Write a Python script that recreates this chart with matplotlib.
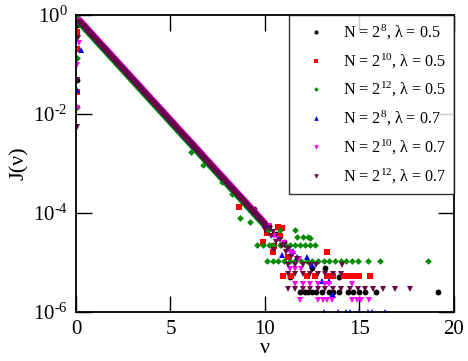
import matplotlib
matplotlib.use("Agg")
import matplotlib.pyplot as plt

# ==============================
# Data
# ==============================

# common exponential band, nu = 0.2 ... 10.0
nu_band = [0.2, 0.4, 0.6, 0.8, 1.0, 1.2, 1.4, 1.6, 1.8, 2.0,
           2.2, 2.4, 2.6, 2.8, 3.0, 3.2, 3.4, 3.6, 3.8, 4.0,
           4.2, 4.4, 4.6, 4.8, 5.0, 5.2, 5.4, 5.6, 5.8, 6.0,
           6.2, 6.4, 6.6, 6.8, 7.0, 7.2, 7.4, 7.6, 7.8, 8.0,
           8.2, 8.4, 8.6, 8.8, 9.0, 9.2, 9.4, 9.6, 9.8, 10.0]
J_band = [0.752, 0.621, 0.512, 0.422, 0.348, 0.287, 0.237, 0.1955, 0.1613, 0.133,
          0.1097, 0.0905, 0.0747, 0.0616, 0.0508, 0.0419, 0.0346, 0.0285, 0.0235, 0.0194,
          0.0160, 0.0132, 0.0109, 0.00899, 0.00741, 0.00611, 0.00504, 0.00416, 0.00343, 0.00283,
          0.00234, 0.00193, 0.00159, 0.00131, 0.00108, 0.000892, 0.000736, 0.000607, 0.000501, 0.000413,
          0.000341, 0.000281, 0.000232, 0.000191, 0.000158, 0.000130, 0.000107, 0.0000885, 0.0000730, 0.0000603]
J_band_green = [0.677, 0.559, 0.461, 0.380, 0.313, 0.258, 0.213, 0.176, 0.145, 0.120,
                0.0987, 0.0815, 0.0672, 0.0554, 0.0457, 0.0377, 0.0311, 0.0257, 0.0212, 0.0175,
                0.0144, 0.0119, 0.00981, 0.00809, 0.00667, 0.00550, 0.00454, 0.00374, 0.00309, 0.00255,
                0.00211, 0.00174, 0.00143, 0.00118, 0.000972, 0.000803, 0.000662, 0.000546, 0.000451, 0.000372,
                0.000307, 0.000253, 0.000209, 0.000172, 0.000142, 0.000117, 0.0000963, 0.0000797, 0.0000657, 0.0000543]
J_band_magenta = [0.797, 0.658, 0.543, 0.447, 0.369, 0.304, 0.251, 0.207, 0.171, 0.141,
                  0.116, 0.0959, 0.0792, 0.0653, 0.0538, 0.0444, 0.0367, 0.0302, 0.0249, 0.0206,
                  0.0170, 0.0140, 0.0116, 0.00953, 0.00785, 0.00648, 0.00534, 0.00441, 0.00364, 0.00300,
                  0.00248, 0.00205, 0.00169, 0.00139, 0.00114, 0.000946, 0.000780, 0.000643, 0.000531, 0.000438,
                  0.000361, 0.000298, 0.000246, 0.000203, 0.000167, 0.000138, 0.000113, 0.0000938, 0.0000774, 0.0000639]

# extra scattered points of each series (nu ~ 0 column and the noisy tail)
nu_black = [0.05, 0.05, 9.4, 10.2, 10.6, 11.0, 11.3, 12.5, 13.2, 13.9,
            11.85, 12.1, 12.3, 12.5, 12.7, 13.0, 13.4, 13.6, 13.9, 14.4,
            14.65, 15.0, 15.3, 15.9, 19.15]
J_black = [0.63, 0.049, 1.2e-4, 5.5e-5, 3.8e-5, 2.6e-5, 5.1e-6, 7.7e-6, 7.7e-6, 5.1e-6,
           2.57e-6, 2.57e-6, 2.57e-6, 2.57e-6, 2.57e-6, 2.57e-6, 2.57e-6, 2.57e-6, 2.57e-6, 2.57e-6,
           2.57e-6, 2.57e-6, 2.57e-6, 2.57e-6, 2.57e-6]

nu_red = [0.05, 0.05, 0.05, 8.6, 9.9, 10.4, 10.7, 10.9, 10.8, 13.3,
          10.1, 10.5, 11.2,
          10.95, 11.4, 12.2, 12.65, 13.3, 13.6, 14.2, 14.4, 14.65, 15.0, 15.55]
J_red = [0.45, 0.21, 0.028, 1.3e-4, 2.6e-5, 1.6e-5, 5.2e-5, 5e-5, 3.5e-5, 1.6e-5,
         4e-5, 2.2e-5, 1.3e-5,
         5.4e-6, 5.4e-6, 5.4e-6, 5.4e-6, 5.4e-6, 5.4e-6, 5.4e-6, 5.4e-6, 5.4e-6, 5.4e-6, 5.4e-6]

nu_green = [0.05, 0.05, 0.05, 6.1, 6.7, 7.7, 8.25, 8.7, 9.2, 10.15,
            10.8, 11.6, 12.4, 11.7, 12.0, 12.3,
            9.6, 9.9, 10.2, 10.4, 10.8, 11.05, 11.3, 11.6, 11.85, 12.1, 12.4, 12.65,
            10.1, 10.4, 10.7, 11.0, 11.3, 11.6, 11.9, 12.2, 12.5, 12.8,
            13.1, 13.4, 13.7, 14.0, 14.3, 14.6, 14.9, 15.45, 16.1, 18.6]
J_green = [0.95, 0.135, 0.0138, 1.7e-3, 9.3e-4, 4.2e-4, 2.4e-4, 7.9e-5, 6.6e-5, 4.5e-5,
           4.5e-5, 4.5e-5, 3.2e-5, 3.3e-5, 3.3e-5, 3.3e-5,
           2.25e-5, 2.25e-5, 2.25e-5, 2.25e-5, 2.25e-5, 2.25e-5, 2.25e-5, 2.25e-5, 2.25e-5, 2.25e-5, 2.25e-5, 2.25e-5,
           1.09e-5, 1.09e-5, 1.09e-5, 1.09e-5, 1.09e-5, 1.09e-5, 1.09e-5, 1.09e-5, 1.09e-5, 1.09e-5,
           1.09e-5, 1.09e-5, 1.09e-5, 1.09e-5, 1.09e-5, 1.09e-5, 1.09e-5, 1.09e-5, 1.09e-5, 1.09e-5]

nu_blue = [0.3, 0.25, 0.05, 10.0, 10.4, 10.9, 11.2, 11.5, 11.7, 12.2, 12.5, 13.0, 13.4,
           13.55, 13.6, 13.1, 13.85, 14.3, 14.5, 15.0, 15.45, 15.65, 16.35]
J_blue = [0.69, 0.2, 0.03, 6e-5, 3.8e-5, 1.4e-5, 2e-5, 1.7e-5, 1.3e-5, 1.3e-5, 9e-6, 4.2e-6, 4.2e-6,
          2.2e-6, 2.2e-6, 1e-6, 1e-6, 1e-6, 1e-6, 1e-6, 1e-6, 1e-6, 1e-6]

nu_magenta = [0.15, 0.05, 0.05, 10.2, 10.5, 10.7, 11.0, 11.3, 11.5, 11.8,
              11.3, 11.6, 11.9,
              11.6, 12.0, 12.4, 12.8, 13.2, 13.4, 14.6,
              11.85, 12.8, 13.05, 13.3, 13.55, 14.6, 14.85, 15.1, 15.5]
J_magenta = [0.27, 0.098, 0.0132, 5.5e-5, 3.5e-5, 3e-5, 2.5e-5, 1.6e-5, 1.5e-5, 1.2e-5,
             7.4e-6, 7.4e-6, 7.4e-6,
             3.7e-6, 3.7e-6, 3.7e-6, 3.7e-6, 3.7e-6, 3.7e-6, 3.7e-6,
             1.75e-6, 1.75e-6, 1.75e-6, 1.75e-6, 1.75e-6, 1.75e-6, 1.75e-6, 1.75e-6, 1.75e-6]

nu_maroon = [0.1, 0.05, 0.05, 10.0, 10.2, 10.3, 10.4, 10.5, 10.6, 10.8, 10.9, 11.0,
             11.1, 11.2, 11.4, 11.7,
             11.2, 11.6, 12.0, 12.4, 12.7, 14.1,
             11.2, 11.6, 12.0, 12.4, 12.8, 13.2, 13.6, 14.0,
             11.2, 11.6, 12.0, 12.4, 12.8, 13.2, 13.6, 14.0, 14.5, 14.9, 15.3, 15.7, 16.25, 16.9, 17.7]
J_maroon = [0.34, 0.049, 0.0055, 4.5e-5, 5e-5, 3.5e-5, 4.1e-5, 1.8e-5, 2.6e-5, 2.8e-5, 2.2e-5, 2.3e-5,
            1.6e-5, 1.9e-5, 1.3e-5, 1.2e-5,
            9e-6, 9e-6, 9e-6, 9e-6, 9e-6, 9e-6,
            5.8e-6, 5.8e-6, 5.8e-6, 5.8e-6, 5.8e-6, 5.8e-6, 5.8e-6, 5.8e-6,
            2.9e-6, 2.9e-6, 2.9e-6, 2.9e-6, 2.9e-6, 2.9e-6, 2.9e-6, 2.9e-6, 2.9e-6, 2.9e-6, 2.9e-6, 2.9e-6, 2.9e-6, 2.9e-6, 2.9e-6]

labels = ["N = 2$^{8}$, λ = 0.5",
          "N = 2$^{10}$, λ = 0.5",
          "N = 2$^{12}$, λ = 0.5",
          "N = 2$^{8}$, λ = 0.7",
          "N = 2$^{10}$, λ = 0.7",
          "N = 2$^{12}$, λ = 0.7"]

# ==============================
# Style
# ==============================

plt.rcParams["font.family"] = ["Liberation Serif", "DejaVu Serif"]
plt.rcParams["mathtext.fontset"] = "custom"
plt.rcParams["mathtext.rm"] = "Liberation Serif"
plt.rcParams["mathtext.it"] = "Liberation Serif"
plt.rcParams["mathtext.default"] = "regular"

series = [
    (J_band, nu_black, J_black, "o", "black", 4.2),
    (J_band, nu_red, J_red, "s", "#ff0000", 4.0),
    (J_band_green, nu_green, J_green, "D", "#008b00", 3.4),
    (J_band, nu_blue, J_blue, "^", "#0000ff", 4.8),
    (J_band_magenta, nu_magenta, J_magenta, "v", "#ff00ff", 4.8),
    (J_band, nu_maroon, J_maroon, "v", "#670748", 4.8),
]

fig = plt.figure(figsize=(4.68, 3.61), dpi=100)
ax = fig.add_axes([0.1624, 0.1357, 0.8076, 0.8227])

handles = []
for (jb, x, y, m, c, ms), lab in zip(series, labels):
    # the dense part of each series: points so close they form a solid band
    ax.plot(nu_band, jb, color=c, linewidth=4.2, solid_capstyle="round")
    h, = ax.plot(x, y, linestyle="none", marker=m, color=c,
                 markersize=ms, markeredgewidth=0, label=lab)
    handles.append(h)

ax.set_yscale("log")
ax.set_xlim(0, 20)
ax.set_ylim(1e-6, 1)
ax.set_xticks([0, 5, 10, 15, 20])
ax.set_yticks([1, 1e-2, 1e-4, 1e-6])
ax.set_yticklabels([r"$10^{0}$", r"$10^{\text{-}2}$", r"$10^{\text{-}4}$", r"$10^{\text{-}6}$"])
ax.minorticks_off()
ax.tick_params(direction="in", length=11.5, width=1, top=True, right=True,
               labelsize=15, pad=6)
for s in ax.spines.values():
    s.set_linewidth(1.3)

ax.set_xlabel("ν", fontsize=16, labelpad=0)
ax.set_ylabel("J(ν)", fontsize=16, labelpad=3)

leg = ax.legend(handles=handles, loc="upper right", fontsize=11.6,
                markerscale=0.7, frameon=True, fancybox=False,
                borderaxespad=0, labelspacing=0.6, handletextpad=0.56,
                borderpad=0.5, handlelength=2.24)
leg.get_frame().set_edgecolor("black")
leg.get_frame().set_linewidth(1.0)

fig.savefig("out.png", dpi=100)
